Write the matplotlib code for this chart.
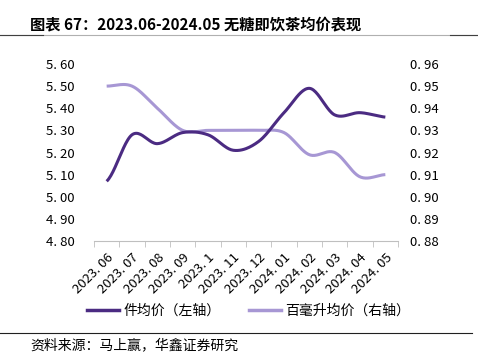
import numpy as np
import matplotlib.pyplot as plt
from matplotlib.lines import Line2D

plt.rcParams['font.family'] = ['Noto Sans CJK SC', 'DejaVu Sans']

# data
months = ["2023.06", "2023.07", "2023.08", "2023.09", "2023.1", "2023.11",
          "2023.12", "2024.01", "2024.02", "2024.03", "2024.04", "2024.05"]
price_per_item = [5.07, 5.28, 5.24, 5.29, 5.28, 5.21, 5.25, 5.38, 5.49, 5.37, 5.38, 5.36]
price_per_100ml = [0.950, 0.950, 0.940, 0.930, 0.930, 0.930, 0.930, 0.929, 0.919, 0.920, 0.909, 0.910]

dark = '#4b2b82'
light = '#a797d4'


def smooth(y, n=24):
    # Catmull-Rom style smoothing, similar to Excel's smoothed line
    y = np.asarray(y, dtype=float)
    yp = np.concatenate([[y[0]], y, [y[-1]]])
    xs, ys = [], []
    for i in range(len(y) - 1):
        p0, p1, p2, p3 = yp[i], yp[i + 1], yp[i + 2], yp[i + 3]
        m1 = (p2 - p0) / 2
        m2 = (p3 - p1) / 2
        t = np.linspace(0, 1, n, endpoint=(i == len(y) - 2))
        h00 = 2 * t**3 - 3 * t**2 + 1
        h10 = t**3 - 2 * t**2 + t
        h01 = -2 * t**3 + 3 * t**2
        h11 = t**3 - t**2
        xs.append(i + t)
        ys.append(h00 * p1 + h10 * m1 + h01 * p2 + h11 * m2)
    return np.concatenate(xs), np.concatenate(ys)


fig = plt.figure(figsize=(4.78, 3.59), dpi=100)
ax = fig.add_axes([94 / 478, 1 - 241 / 359, 304 / 478, 177 / 359])
ax2 = ax.twinx()

x1, y1 = smooth(price_per_item)
x2, y2 = smooth(price_per_100ml)
ax.plot(x1, y1, color=dark, lw=2.2, solid_capstyle='butt', zorder=3)
ax2.plot(x2, y2, color=light, lw=2.2, solid_capstyle='butt', zorder=2)
ax.set_zorder(ax2.get_zorder() + 1)
ax.patch.set_visible(False)

ax.set_xlim(-0.5, len(months) - 0.5)
ax.set_ylim(4.8, 5.6)
ax.set_yticks(np.arange(4.8, 5.61, 0.1))
ax.set_yticklabels([f"{v:.2f}".replace('.', '. ') for v in np.arange(4.8, 5.61, 0.1)])
ax2.set_ylim(0.88, 0.96)
ax2.set_yticks(np.arange(0.88, 0.961, 0.01))
ax2.set_yticklabels([f"{v:.2f}".replace('.', '. ') for v in np.arange(0.88, 0.961, 0.01)])

ax.set_xticks(range(len(months)))
ax.set_xticklabels([m.replace('.', '. ') for m in months], rotation=45, ha='right',
                   rotation_mode='anchor', fontsize=9.5)
ax.set_xticks(np.arange(-0.5, len(months)), minor=True)
ax.tick_params(axis='x', which='major', length=0, pad=7)
ax.tick_params(axis='x', which='minor', length=4, color='#bfbfbf', direction='out')
ax.tick_params(axis='y', length=0, pad=14, labelsize=9.5)
ax2.tick_params(axis='y', length=0, pad=9, labelsize=9.5)

for a in (ax, ax2):
    for s in ('top', 'left', 'right'):
        a.spines[s].set_visible(False)
ax.spines['bottom'].set_color('#bfbfbf')
ax2.spines['bottom'].set_visible(False)

handles = [Line2D([], [], color=dark, lw=2.5), Line2D([], [], color=light, lw=2.5)]
fig.legend(handles, ["件均价（左轴）", "百毫升均价（右轴）"], loc='center',
           bbox_to_anchor=(0.52, 1 - 311 / 359), ncol=2, frameon=False,
           fontsize=10, handlelength=2.3, columnspacing=2.0, handletextpad=0.35)

fig.text(30 / 478, 1 - 24 / 359, "图表 67：2023.06-2024.05 无糖即饮茶均价表现",
         fontsize=11, fontweight='bold', va='center', ha='left')
fig.text(30 / 478, 1 - 345 / 359, "资料来源：马上赢，华鑫证券研究",
         fontsize=10, va='center', ha='left')

yl = 1 - 35 / 359
fig.add_artist(Line2D([0, 1], [yl, yl], color='#b0b0b0', lw=0.8))
fig.add_artist(Line2D([0, 43 / 478], [yl, yl], color='#404040', lw=0.8))
fig.add_artist(Line2D([450 / 478, 1], [yl, yl], color='#404040', lw=0.8))
yb = 1 - 333 / 359
fig.add_artist(Line2D([0, 472 / 478], [yb, yb], color='#202020', lw=0.8))

fig.savefig("out.png", dpi=100)
